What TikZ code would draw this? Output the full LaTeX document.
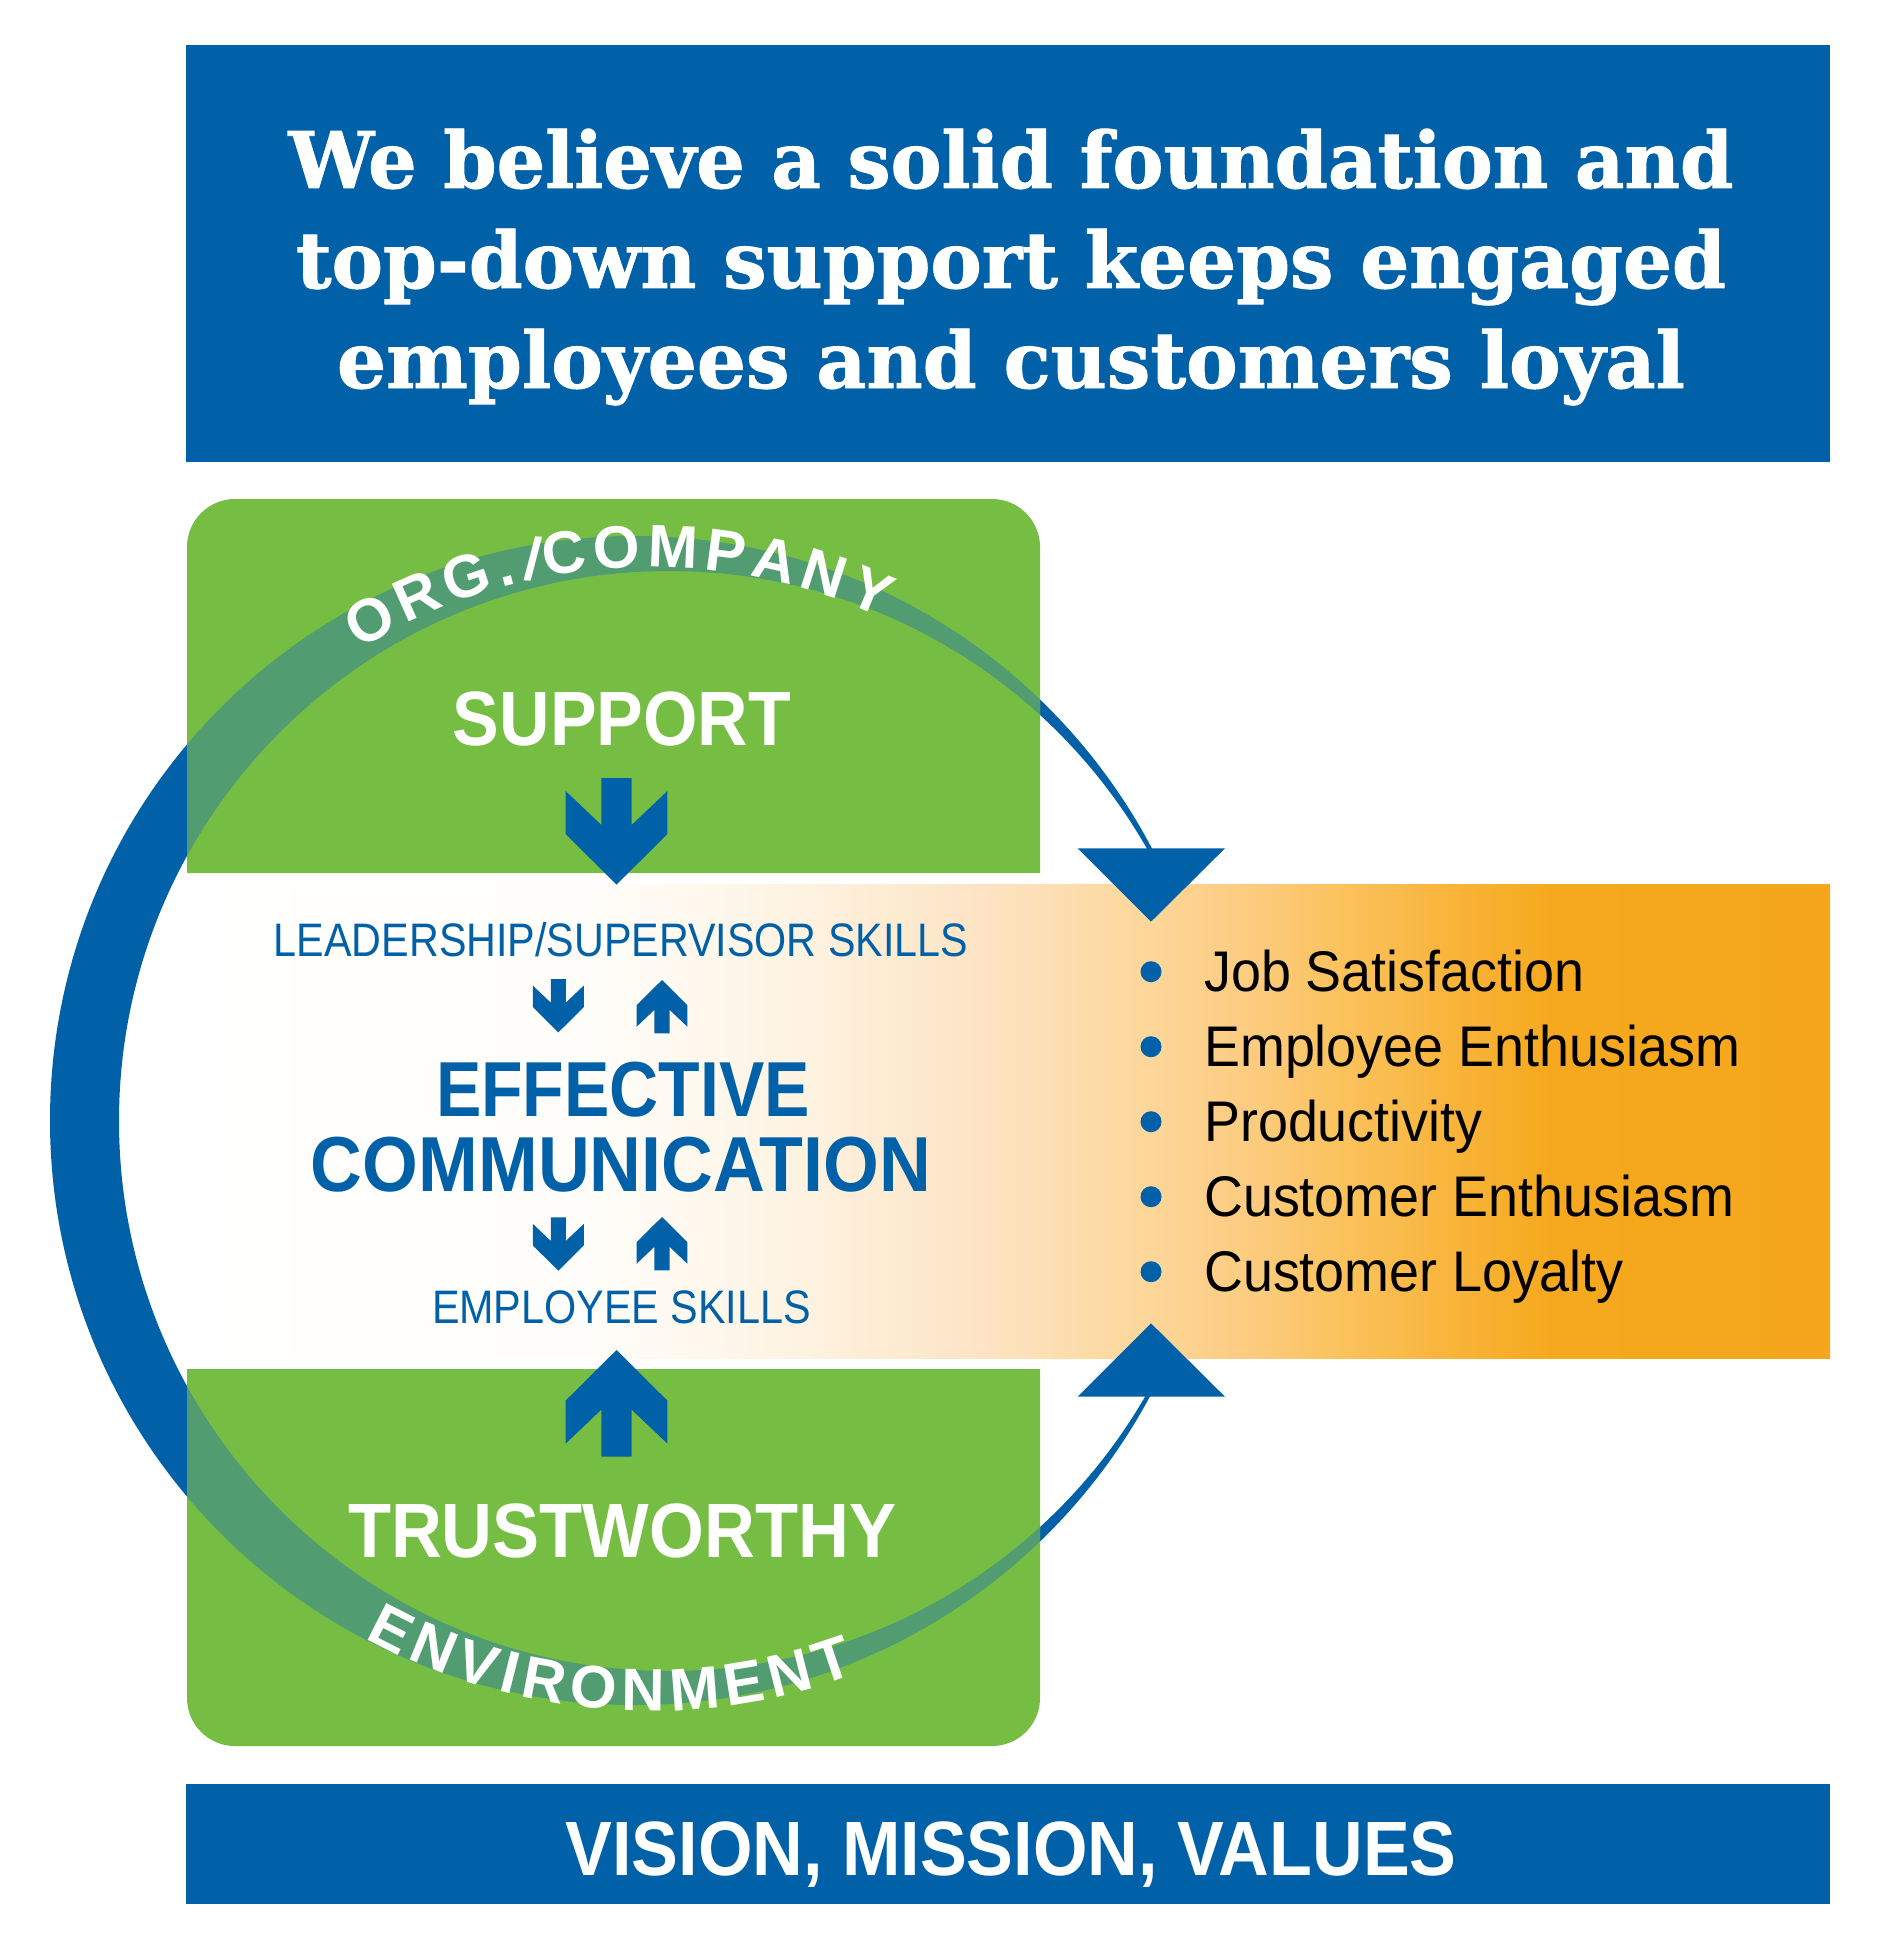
\documentclass[tikz,border=0pt]{standalone}
\usepackage{fontspec}
\setmainfont{Liberation Sans}
\newfontfamily\headfont{DejaVu Serif}[BoldFeatures={FakeBold=1.2}]
\usetikzlibrary{calc}
\definecolor{cblue}{HTML}{0061A8}
\definecolor{cgreen}{HTML}{76BD43}
\definecolor{cmix}{HTML}{529C72}
\definecolor{cwa}{HTML}{FFFDF9}
\definecolor{cwb}{HTML}{FEF3E2}
\definecolor{cpeach}{HTML}{FDE3C2}
\definecolor{cpb}{HTML}{FDD9A0}
\definecolor{cpc}{HTML}{FCCB7E}
\definecolor{cpd}{HTML}{FBC35E}
\definecolor{cpe}{HTML}{F8B43A}
\definecolor{corange}{HTML}{F6A91E}
\definecolor{corangeb}{HTML}{F5A61C}
\pgfdeclarehorizontalshading{bandshade}{100bp}{color(0bp)=(white); color(25bp)=(white); color(37.5bp)=(cwa); color(43.5bp)=(cwb); color(49.5bp)=(cpeach); color(53.5bp)=(cpb); color(57.5bp)=(cpc); color(60bp)=(cpd); color(63.5bp)=(cpe); color(66.5bp)=(corange); color(75bp)=(corangeb); color(100bp)=(corangeb)}
\tikzset{
  bigw/.style={text=white, font=\fontsize{77}{77}\selectfont\bfseries, inner sep=0pt, anchor=base},
  bigb/.style={text=cblue, font=\fontsize{78}{78}\selectfont\bfseries, inner sep=0pt, anchor=base},
  smallb/.style={text=cblue, font=\fontsize{47}{47}\selectfont, inner sep=0pt, anchor=base},
  listitem/.style={text=black, font=\fontsize{57.3}{57.3}\selectfont, inner sep=0pt, anchor=base west},
  headline/.style={text=white, font=\headfont\bfseries\fontsize{78}{78}\selectfont, inner sep=0pt, anchor=base},
  arcw/.style={text=white, font=\fontsize{60}{60}\selectfont\bfseries, inner sep=0pt, anchor=base},
  downarr/.pic={\fill[cblue] (-15.1,-106.6) -- (15.1,-106.6) -- (15.1,-59.6) -- (50.9,-93.6) -- (50.9,-50.6) -- (0,0) -- (-50.9,-50.6) -- (-50.9,-93.6) -- (-15.1,-59.6) -- cycle;}
}
\begin{document}
\begin{tikzpicture}[x=1pt,y=-1pt]
\useasboundingbox (0,0) rectangle (1876,1950);
\fill[white] (0,0) rectangle (1876,1950);
% top banner
\fill[cblue] (186,45) rectangle (1830,462);
\node[headline] (h1) at (1011,188) {\resizebox{1445pt}{\height}{We believe a solid foundation and}};
\node[headline] (h2) at (1011,288) {\resizebox{1430pt}{\height}{top-down support keeps engaged}};
\node[headline] (h3) at (1011,388) {\resizebox{1348pt}{\height}{employees and customers loyal}};
% ring (blue)
\fill[cblue, even odd rule] (634.5,1120.5) circle[radius=584.5pt] (669,1121) circle[radius=550pt];
% green panels
\begin{scope}
  \clip (0,0) rectangle (1876,873) (0,1369) rectangle (1876,1950);
  \fill[cgreen, rounded corners=48pt] (187,499) rectangle (1040,1746);
  \clip[rounded corners=48pt] (187,499) rectangle (1040,1746);
  \fill[cmix, even odd rule] (634.5,1120.5) circle[radius=584.5pt] (669,1121) circle[radius=550pt];
\end{scope}
% gradient band
\shade[shading=bandshade] (187,884) rectangle (1830,1358);
% arrowheads of the ring
\fill[cblue] (1077.7,848.3) -- (1225,848.3) -- (1151,921.7) -- cycle;
\fill[cblue] (1077.7,1396.7) -- (1225,1396.7) -- (1151,1323.3) -- cycle;
% bottom banner
\fill[cblue] (186,1784) rectangle (1830,1904);
\node[bigw] (vmv) at (1011,1875) {\resizebox{891pt}{\height}{VISION, MISSION, VALUES}};
% arrows
\pic (bigdown) at (616.5,884.6) {downarr};
\pic[yscale=-1] (bigup) at (616.5,1350) {downarr};
\pic[scale=0.5] (sd1) at (558.3,1032.4) {downarr};
\pic[scale=0.5,yscale=-1] (su1) at (662,980) {downarr};
\pic[scale=0.5] (sd2) at (558.3,1270.7) {downarr};
\pic[scale=0.5,yscale=-1] (su2) at (662,1217) {downarr};
% main texts
\node[bigw] (support) at (622,745) {\resizebox{338pt}{\height}{SUPPORT}};
\node[bigw] (trust) at (622,1557) {\resizebox{548pt}{\height}{TRUSTWORTHY}};
\node[bigb] (eff) at (623,1116.6) {\resizebox{374pt}{\height}{EFFECTIVE}};
\node[bigb] (comm) at (621,1191.6) {\resizebox{620pt}{\height}{COMMUNICATION}};
\node[smallb] (lead) at (621,956) {\resizebox{694pt}{\height}{LEADERSHIP/SUPERVISOR SKILLS}};
\node[smallb] (emp) at (621.5,1323) {\resizebox{379pt}{\height}{EMPLOYEE SKILLS}};
% bullet list
\foreach \yy [count=\i] in {971.7,1046.7,1121.7,1196.7,1271.7}{
  \fill[cblue] (1151,\yy) circle[radius=10.5pt];
}
\node[listitem] (l1) at (1204,991.7) {\scalebox{0.94}[1]{Job Satisfaction}};
\node[listitem] (l2) at (1204,1066.7) {\scalebox{0.94}[1]{Employee Enthusiasm}};
\node[listitem] (l3) at (1204,1141.7) {\scalebox{0.94}[1]{Productivity}};
\node[listitem] (l4) at (1204,1216.7) {\scalebox{0.94}[1]{Customer Enthusiasm}};
\node[listitem] (l5) at (1204,1291.7) {\scalebox{0.94}[1]{Customer Loyalty}};
% curved texts
\coordinate (C) at (650,1120);
\node[arcw, rotate=29.3]   (t1)  at ($(C)+(119.3:553pt)$) {O};
\node[arcw, rotate=23.99]  (t2)  at ($(C)+(113.99:553pt)$) {R};
\node[arcw, rotate=18.68]  (t3)  at ($(C)+(108.68:553pt)$) {G};
\node[arcw, rotate=14.75]  (t4)  at ($(C)+(104.75:553pt)$) {.};
\node[arcw, rotate=-4]     (t5)  at ($(C)+(102.37:553pt)$) {/};
\node[arcw, rotate=8.62]   (t6)  at ($(C)+(98.62:553pt)$) {C};
\node[arcw, rotate=3.31]   (t7)  at ($(C)+(93.31:553pt)$) {O};
\node[arcw, rotate=-2.35]  (t8)  at ($(C)+(87.65:553pt)$) {M};
\node[arcw, rotate=-7.65]  (t9)  at ($(C)+(82.35:553pt)$) {P};
\node[arcw, rotate=-12.62] (t10) at ($(C)+(77.38:553pt)$) {A};
\node[arcw, rotate=-17.75] (t11) at ($(C)+(72.25:553pt)$) {N};
\node[arcw, rotate=-22.71] (t12) at ($(C)+(67.29:553pt)$) {Y};
\node[arcw, rotate=-26.9]  (b1)  at ($(C)+(-116.9:591pt)$) {E};
\node[arcw, rotate=-22.23] (b2)  at ($(C)+(-112.23:591pt)$) {N};
\node[arcw, rotate=-17.56] (b3)  at ($(C)+(-107.56:591pt)$) {V};
\node[arcw, rotate=-14.19] (b4)  at ($(C)+(-104.19:591pt)$) {I};
\node[arcw, rotate=-10.65] (b5)  at ($(C)+(-100.65:591pt)$) {R};
\node[arcw, rotate=-5.65]  (b6)  at ($(C)+(-95.65:591pt)$) {O};
\node[arcw, rotate=-0.66]  (b7)  at ($(C)+(-90.66:591pt)$) {N};
\node[arcw, rotate=4.49]   (b8)  at ($(C)+(-85.51:591pt)$) {M};
\node[arcw, rotate=9.48]   (b9)  at ($(C)+(-80.52:591pt)$) {E};
\node[arcw, rotate=14.15]  (b10) at ($(C)+(-75.85:591pt)$) {N};
\node[arcw, rotate=18.66]  (b11) at ($(C)+(-71.34:591pt)$) {T};
\end{tikzpicture}
\end{document}
